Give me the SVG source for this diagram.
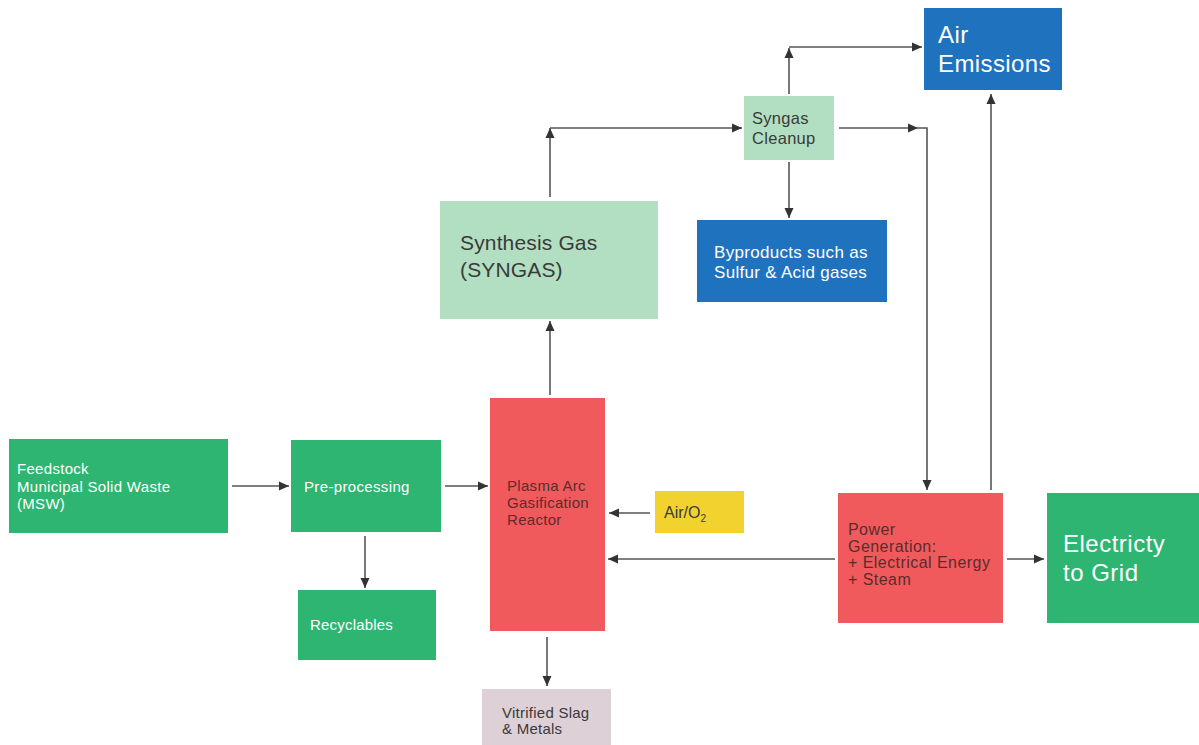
<svg xmlns="http://www.w3.org/2000/svg" width="1199" height="745" viewBox="0 0 1199 745">
<defs>
<marker id="ah" viewBox="0 0 10 10" refX="10" refY="5" markerWidth="10" markerHeight="10" markerUnits="userSpaceOnUse" orient="auto">
<path d="M0,0.5 L10,5 L0,9.5 z" fill="#333"/>
</marker>
<style>
.c{fill:none;stroke:#555;stroke-width:1.6}
.a{marker-end:url(#ah)}
.t{font-family:"Liberation Sans",Arial,sans-serif}
.w{fill:#fff}
.d{fill:#3a3a3a}
.dr{fill:#5b2c2c}
.g{fill:#2db571}
.r{fill:#f05a5c}
.lg{fill:#b2dfc1}
.b{fill:#1f72be}
</style>
</defs>
<rect width="1199" height="745" fill="#fff"/>
<g id="connectors">
<line class="c a" x1="232" y1="486" x2="289" y2="486"/>
<line class="c a" x1="445" y1="486" x2="488" y2="486"/>
<line class="c a" x1="365" y1="536" x2="365" y2="588"/>
<line class="c a" x1="550" y1="395" x2="550" y2="321"/>
<line class="c a" x1="550" y1="197" x2="550" y2="128"/>
<line class="c a" x1="550" y1="128" x2="742" y2="128"/>
<line class="c a" x1="789" y1="94" x2="789" y2="48"/>
<line class="c a" x1="789" y1="47" x2="922" y2="47"/>
<line class="c a" x1="789" y1="162" x2="789" y2="218"/>
<line class="c a" x1="839" y1="128" x2="918" y2="128"/>
<polyline class="c a" points="918,128 927,128 927,490"/>
<line class="c a" x1="991" y1="490" x2="991" y2="94"/>
<line class="c a" x1="835" y1="559" x2="608" y2="559"/>
<line class="c a" x1="650" y1="513" x2="609" y2="513"/>
<line class="c a" x1="1007" y1="559" x2="1044" y2="559"/>
<line class="c a" x1="547" y1="637" x2="547" y2="686"/>
</g>
<g id="feedstock">
<rect class="g" x="9" y="439" width="219" height="94"/>
<text class="t w" font-size="15" letter-spacing="0.3"><tspan x="17" y="474">Feedstock</tspan><tspan x="17" y="492">Municipal Solid Waste</tspan><tspan x="17" y="509">(MSW)</tspan></text>
</g>
<g id="preprocessing">
<rect class="g" x="291" y="440" width="150" height="92"/>
<text class="t w" font-size="15" letter-spacing="0.35" x="304" y="492">Pre-processing</text>
</g>
<g id="recyclables">
<rect class="g" x="298" y="590" width="138" height="70"/>
<text class="t w" font-size="15" letter-spacing="0.2" x="310" y="630">Recyclables</text>
</g>
<g id="plasma">
<rect class="r" x="490" y="398" width="115" height="233"/>
<text class="t dr" font-size="15" letter-spacing="0.3"><tspan x="507" y="491">Plasma Arc</tspan><tspan x="507" y="508">Gasification</tspan><tspan x="507" y="525">Reactor</tspan></text>
</g>
<g id="slag">
<rect fill="#ddd0d7" x="482" y="689" width="129" height="56"/>
<text class="t d" font-size="15" letter-spacing="0.25"><tspan x="502" y="718">Vitrified Slag</tspan><tspan x="502" y="734">&amp; Metals</tspan></text>
</g>
<g id="airo2">
<rect fill="#f2d22f" x="655" y="491" width="89" height="42"/>
<text class="t d" font-size="16" x="664" y="518">Air/O<tspan font-size="10" dy="4">2</tspan></text>
</g>
<g id="syngas">
<rect class="lg" x="440" y="201" width="218" height="118"/>
<text class="t d" font-size="21" letter-spacing="0.15"><tspan x="460" y="250">Synthesis Gas</tspan><tspan x="460" y="277">(SYNGAS)</tspan></text>
</g>
<g id="cleanup">
<rect class="lg" x="744" y="96" width="90" height="64"/>
<text class="t d" font-size="16.5" letter-spacing="0.3"><tspan x="752" y="124">Syngas</tspan><tspan x="752" y="144">Cleanup</tspan></text>
</g>
<g id="byproducts">
<rect class="b" x="697" y="220" width="190" height="82"/>
<text class="t w" font-size="17" letter-spacing="0.3"><tspan x="714" y="258">Byproducts such as</tspan><tspan x="714" y="278">Sulfur &amp; Acid gases</tspan></text>
</g>
<g id="airemissions">
<rect class="b" x="924" y="8" width="138" height="82"/>
<text class="t w" font-size="24" letter-spacing="0.4"><tspan x="938" y="43">Air</tspan><tspan x="938" y="72">Emissions</tspan></text>
</g>
<g id="power">
<rect class="r" x="838" y="493" width="165" height="130"/>
<text class="t dr" font-size="16" letter-spacing="0.45"><tspan x="848" y="535">Power</tspan><tspan x="848" y="552">Generation:</tspan><tspan x="848" y="568">+ Electrical Energy</tspan><tspan x="848" y="585">+ Steam</tspan></text>
</g>
<g id="grid">
<rect class="g" x="1047" y="493" width="152" height="130"/>
<text class="t w" font-size="24" letter-spacing="0.5"><tspan x="1063" y="552">Electricty</tspan><tspan x="1063" y="581">to Grid</tspan></text>
</g>
</svg>
